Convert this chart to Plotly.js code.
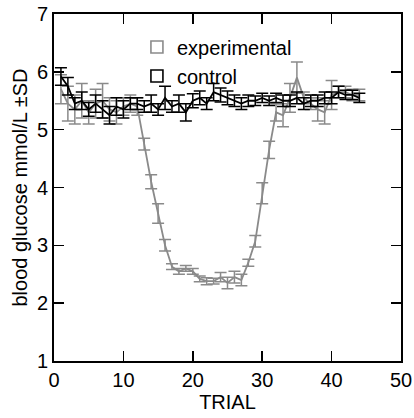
<!DOCTYPE html>
<html><head><meta charset="utf-8">
<script src="https://cdn.plot.ly/plotly-3.0.1.min.js"></script>
<style>html,body{margin:0;padding:0;background:#fff}#chart{width:414px;height:418px}</style>
</head><body><div id="chart"></div>
<script>
const trials = [1,2,3,4,5,6,7,8,9,10,11,12,13,14,15,16,17,18,19,20,21,22,23,24,25,26,27,28,29,30,31,32,33,34,35,36,37,38,39,40,41,42,43,44];
const experimental = [5.7,5.45,5.35,5.5,5.3,5.45,5.5,5.35,5.3,5.4,5.45,5.4,4.75,4.1,3.55,3.0,2.63,2.55,2.6,2.55,2.42,2.38,2.38,2.45,2.35,2.45,2.4,2.7,3.07,3.9,4.65,5.3,5.25,5.55,5.9,5.55,5.45,5.35,5.3,5.6,5.65,5.65,5.6,5.6];
const experimentalSD = [0.25,0.3,0.25,0.3,0.2,0.25,0.3,0.2,0.2,0.15,0.15,0.15,0.1,0.12,0.17,0.1,0.05,0.05,0.05,0.05,0.05,0.06,0.05,0.08,0.1,0.1,0.1,0.06,0.1,0.18,0.15,0.15,0.2,0.25,0.27,0.1,0.1,0.2,0.2,0.25,0.1,0.1,0.1,0.1];
const control = [5.92,5.75,5.45,5.5,5.35,5.45,5.35,5.25,5.4,5.35,5.45,5.45,5.4,5.45,5.35,5.55,5.4,5.45,5.3,5.5,5.55,5.45,5.65,5.6,5.55,5.5,5.45,5.5,5.5,5.55,5.5,5.55,5.5,5.5,5.55,5.45,5.5,5.5,5.55,5.55,5.65,5.6,5.6,5.55];
const controlSD = [0.15,0.15,0.1,0.15,0.12,0.15,0.15,0.15,0.15,0.15,0.1,0.1,0.1,0.15,0.1,0.2,0.1,0.15,0.15,0.12,0.12,0.1,0.15,0.12,0.12,0.1,0.1,0.1,0.08,0.08,0.08,0.08,0.1,0.1,0.1,0.1,0.1,0.1,0.1,0.1,0.1,0.08,0.08,0.08];
const seriesNames = ["experimental","control"];
const xTicks = [0,10,20,30,40,50];
const yTicks = [1,2,3,4,5,6,7];

const gray = '#8a8a8a';
const traces = [
  {x:trials, y:experimental, mode:'lines', showlegend:false,
   line:{color:gray,width:1.8},
   error_y:{type:'data',array:experimentalSD,visible:true,color:gray,thickness:1.5,width:6}},
  {x:trials, y:control, mode:'lines', showlegend:false,
   line:{color:'#000',width:1.8},
   error_y:{type:'data',array:controlSD,visible:true,color:'#000',thickness:1.5,width:6}},
  {x:[null], y:[null], mode:'markers', name:seriesNames[0],
   marker:{symbol:'square-open',size:12,color:gray,line:{width:1.6}}},
  {x:[null], y:[null], mode:'markers', name:seriesNames[1],
   marker:{symbol:'square-open',size:12,color:'#000',line:{width:1.6}}}
];
const font = {family:'Liberation Sans, Arial, sans-serif', color:'#000'};
const layout = {
  width:414, height:418,
  margin:{l:54,r:13,t:14,b:57},
  paper_bgcolor:'#fff', plot_bgcolor:'#fff',
  font:Object.assign({size:20},font),
  showlegend:true,
  legend:{x:0.239,y:0.961,xanchor:'left',yanchor:'top',bgcolor:'rgba(0,0,0,0)',
    font:Object.assign({size:20},font),itemwidth:30,tracegroupgap:0},
  xaxis:{range:[0,50],tickvals:xTicks,ticktext:xTicks.map(String),
    ticks:'inside',ticklen:10,tickwidth:1.5,tickcolor:'#000',
    showline:true,linewidth:2,linecolor:'#000',mirror:'ticks',
    showgrid:false,zeroline:false,tickfont:{size:20},
    title:{text:'TRIAL',font:{size:20},standoff:2}},
  yaxis:{range:[1,7],tickvals:yTicks,ticktext:yTicks.map(String),
    ticks:'inside',ticklen:10,tickwidth:1.5,tickcolor:'#000',
    showline:true,linewidth:2,linecolor:'#000',mirror:'ticks',
    showgrid:false,zeroline:false,tickfont:{size:20},
    title:{text:'blood glucose mmol/L ±SD',font:{size:20},standoff:4}}
};
Plotly.newPlot('chart',traces,layout,{displayModeBar:false,staticPlot:true});
</script></body></html>
